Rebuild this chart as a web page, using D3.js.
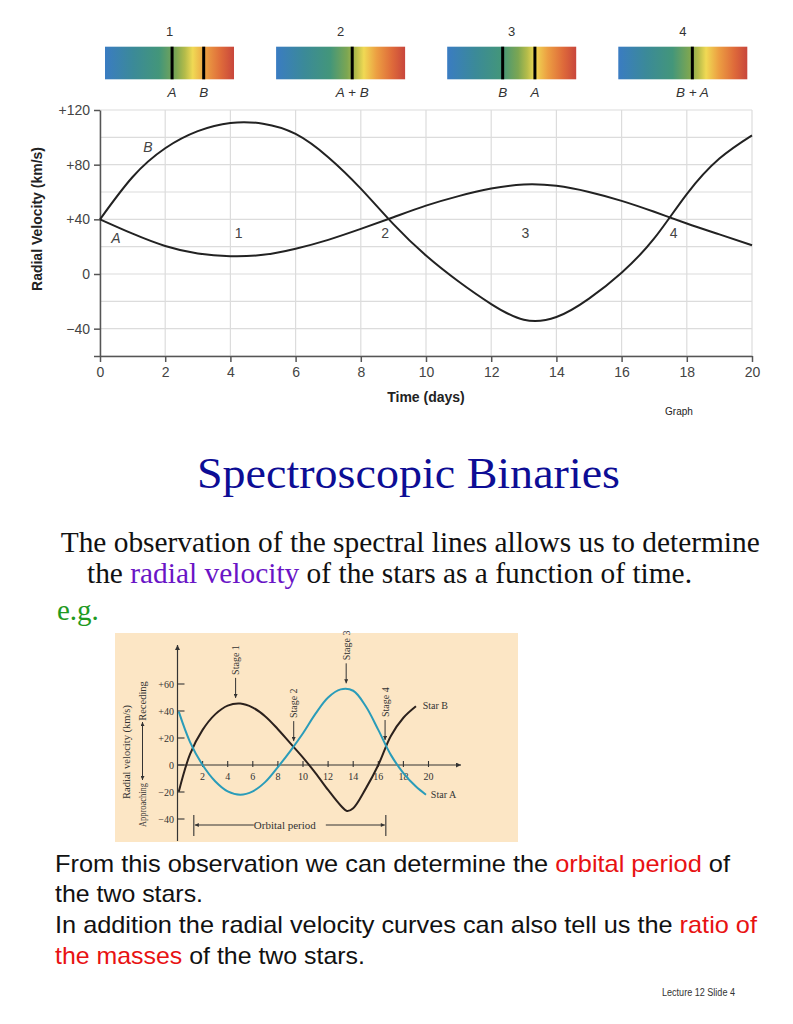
<!DOCTYPE html>
<html><head><meta charset="utf-8">
<script src="https://cdn.jsdelivr.net/npm/d3@7"></script>
<style>body{margin:0;background:#fff}svg{display:block}</style>
</head><body>
<svg id="c" width="793" height="1024"></svg>
<script>
// ---------- DATA ----------
// spectra strips
const stages = ["1", "2", "3", "4"];
const stageLinePos = [[0.52, 0.765], [0.59], [0.43, 0.68], [0.574]];
const stageLineLabels = [["A", "B"], ["A + B"], ["B", "A"], ["B + A"]];

// main radial velocity graph
const xTicksMain = [0, 2, 4, 6, 8, 10, 12, 14, 16, 18, 20];
const yTicksMain = [-40, 0, 40, 80, 120];
const daysB = [0, 1, 2, 3, 4, 5, 6, 7, 8, 9, 10, 11, 12, 13, 14, 15, 16, 17, 18, 19, 20];
const velB  = [40, 71, 92, 104.5, 110.5, 110, 102.5, 85.5, 62.5, 36.5, 13.5, -5.5, -22, -33.5, -31.5, -18, 1, 26, 58.5, 84.5, 101.5];
const daysA = [0, 1, 2, 3, 4, 5, 6, 7, 8, 9, 10, 11, 12, 13, 14, 15, 16, 17, 18, 19, 20];
const velA  = [40, 29.5, 20.5, 15, 13, 14, 18.5, 25, 33, 41.5, 50, 57, 62.5, 65.5, 64.5, 60, 53.5, 45.5, 37, 29, 21];
const stageDays = [4.25, 8.75, 13.05, 17.6];
const stageLabelVel = [30, 30, 30, 30];
const curveLabels = ["B", "A"];
const curveLabelDay = [1.47, 0.49];
const curveLabelVel = [92.7, 26.3];

// inset (example) graph
const xTicksInset = [2, 4, 6, 8, 10, 12, 14, 16, 18, 20];
const yTicksInset = [-40, -20, 0, 20, 40, 60];
const insetDaysA = [0.1, 1, 2, 3, 4, 5, 6, 7, 8, 9, 10, 11, 12, 13, 14, 15, 16, 17, 18, 19, 19.8];
const insetVelA  = [39.5, 17, 0, -12, -19.5, -22, -19.5, -12.5, -1.5, 10.5, 23.5, 38, 50, 56, 55, 43.5, 26, 7.5, -6, -16, -22];
const insetDaysB = [0.1, 1, 2, 3, 4, 5, 6, 7, 8, 9, 10, 11, 12, 13, 13.5, 14, 15, 16, 17, 18, 19];
const insetVelB  = [-19.8, 8, 26, 37.5, 44, 45.5, 42.5, 36, 26.5, 16, 5.5, -6, -18.5, -30, -34, -32, -17.5, 0, 21.5, 35, 43.5];
const insetStages = ["Stage 1", "Stage 2", "Stage 3", "Stage 4"];
const insetStageDays = [4.63, 9.26, 13.44, 16.54];
const insetStageVel = [46, 14, 56.8, 14.8];
const orbitalSpan = [1.3, 16.6];
const starLabels = ["Star B", "Star A"];
const starLabelDay = [19.3, 19.95];
const starLabelVel = [44, -22];

// ---------- DRAW ----------
const svg = d3.select("#c");
const SANS = "'Liberation Sans', Arial, Helvetica, sans-serif";
const SERIF = "'Liberation Serif', 'Times New Roman', serif";

const defs = svg.append("defs");
const grad = defs.append("linearGradient").attr("id", "spec").attr("x1", 0).attr("x2", 1).attr("y1", 0).attr("y2", 0);
[[0, "#3a7cc2"], [0.22, "#3b8a98"], [0.42, "#43967a"], [0.55, "#7ca652"], [0.62, "#b5bc4a"], [0.68, "#f0d954"], [0.78, "#ec9e42"], [0.9, "#de6a3a"], [1, "#c8463c"]]
  .forEach(([o, c]) => grad.append("stop").attr("offset", o).attr("stop-color", c));
function marker(id, color, w, h) {
  defs.append("marker").attr("id", id).attr("viewBox", "0 0 10 10").attr("refX", 10).attr("refY", 5)
    .attr("markerWidth", w).attr("markerHeight", h).attr("orient", "auto-start-reverse").attr("markerUnits", "userSpaceOnUse")
    .append("path").attr("d", "M0,0 L10,5 L0,10 Z").attr("fill", color);
}
marker("arr", "#333", 7, 5);
marker("arrS", "#333", 6, 4);

// spectra strips
const band = d3.scaleBand().domain(stages).range([105, 747.3]).paddingInner(0.246).paddingOuter(0);
const linePos = d3.scaleLinear().domain([0, 1]).range([0, band.bandwidth()]);
const strips = svg.append("g").selectAll("g").data(stages).join("g")
  .attr("transform", d => `translate(${band(d)},0)`);
strips.append("rect").attr("y", 46.7).attr("width", band.bandwidth()).attr("height", 32.6).attr("fill", "url(#spec)");
strips.append("text").attr("x", band.bandwidth() / 2).attr("y", 35.5).attr("text-anchor", "middle")
  .attr("font-family", SANS).attr("font-size", 13).attr("fill", "#333").text(d => d);
strips.each(function (d, i) {
  const g = d3.select(this);
  g.selectAll("line").data(stageLinePos[i]).join("line")
    .attr("x1", p => linePos(p)).attr("x2", p => linePos(p)).attr("y1", 46.7).attr("y2", 79.3)
    .attr("stroke", "#000").attr("stroke-width", 3);
  g.selectAll("text.lab").data(stageLineLabels[i]).join("text").attr("class", "lab")
    .attr("x", (l, j) => linePos(stageLinePos[i][j])).attr("y", 96.5).attr("text-anchor", "middle")
    .attr("font-family", SANS).attr("font-style", "italic").attr("font-size", 13.5).attr("fill", "#333").text(l => l);
});

// main chart
const x = d3.scaleLinear().domain([0, 20]).range([100, 752]);
const y = d3.scaleLinear().domain([-60, 120]).range([356, 110]);
const main = svg.append("g");
main.append("g").selectAll("line").data(d3.range(-60, 121, 20)).join("line")
  .attr("x1", x(0)).attr("x2", x(20)).attr("y1", d => y(d)).attr("y2", d => y(d))
  .attr("stroke", "#dcdcdc").attr("stroke-width", 1.2);
main.append("g").selectAll("line").data(xTicksMain).join("line")
  .attr("x1", d => x(d)).attr("x2", d => x(d)).attr("y1", y(-60)).attr("y2", y(120))
  .attr("stroke", "#dcdcdc").attr("stroke-width", 1.2);

const fmt = d => d > 0 ? "+" + d : d < 0 ? "\u2212" + Math.abs(d) : "0";
const yAx = main.append("g").attr("transform", `translate(${x(0)},0)`)
  .call(d3.axisLeft(y).tickValues([-60].concat(yTicksMain)).tickSize(6).tickSizeOuter(0).tickPadding(4).tickFormat(d => d === -60 ? "" : fmt(d)));
const xAx = main.append("g").attr("transform", `translate(0,${y(-60)})`)
  .call(d3.axisBottom(x).tickValues(xTicksMain).tickSize(6).tickSizeOuter(0).tickPadding(5));
[yAx, xAx].forEach(a => {
  a.select(".domain").attr("stroke", "#555").attr("stroke-width", 1.5);
  a.selectAll(".tick line").attr("stroke", "#555").attr("stroke-width", 1.5);
  a.selectAll(".tick text").attr("font-family", SANS).attr("font-size", 14).attr("fill", "#444");
});

const smooth = d3.line().curve(d3.curveNatural);
const line = d3.line().curve(d3.curveCatmullRom.alpha(0.5));
main.append("path").attr("d", smooth(daysB.map((d, i) => [x(d), y(velB[i])])))
  .attr("fill", "none").attr("stroke", "#222").attr("stroke-width", 2);
main.append("path").attr("d", smooth(daysA.map((d, i) => [x(d), y(velA[i])])))
  .attr("fill", "none").attr("stroke", "#222").attr("stroke-width", 2);

main.append("g").selectAll("text").data(stages).join("text")
  .attr("x", (d, i) => x(stageDays[i])).attr("y", (d, i) => y(stageLabelVel[i]) + 5)
  .attr("text-anchor", "middle").attr("font-family", SANS).attr("font-size", 14).attr("fill", "#444").text(d => d);
main.append("g").selectAll("text").data(curveLabels).join("text")
  .attr("x", (d, i) => x(curveLabelDay[i])).attr("y", (d, i) => y(curveLabelVel[i]) + 5)
  .attr("text-anchor", "middle").attr("font-family", SANS).attr("font-style", "italic").attr("font-size", 14).attr("fill", "#444").text(d => d);

main.append("text").attr("transform", "translate(42,219) rotate(-90)").attr("text-anchor", "middle")
  .attr("font-family", SANS).attr("font-weight", "bold").attr("font-size", 14).attr("fill", "#222").text("Radial Velocity (km/s)");
main.append("text").attr("x", 426).attr("y", 401.5).attr("text-anchor", "middle")
  .attr("font-family", SANS).attr("font-weight", "bold").attr("font-size", 14).attr("fill", "#222").text("Time (days)");
main.append("text").attr("x", 679).attr("y", 414.5).attr("text-anchor", "middle")
  .attr("font-family", SANS).attr("font-size", 10).attr("fill", "#222").text("Graph");

// slide texts
svg.append("text").attr("x", 197).attr("y", 488).attr("textLength", 423).attr("lengthAdjust", "spacingAndGlyphs")
  .attr("font-family", SERIF).attr("font-size", 45).attr("fill", "#0d0d95").text("Spectroscopic Binaries");
const p1 = svg.append("g").attr("font-family", SERIF).attr("font-size", 29).attr("fill", "#111");
p1.append("text").attr("x", 60.7).attr("y", 552).attr("textLength", 699).attr("lengthAdjust", "spacingAndGlyphs")
  .text("The observation of the spectral lines allows us to determine");
const p1b = p1.append("text").attr("x", 87).attr("y", 583).attr("textLength", 605).attr("lengthAdjust", "spacingAndGlyphs");
p1b.append("tspan").text("the ");
p1b.append("tspan").attr("fill", "#6a14c6").text("radial velocity");
p1b.append("tspan").text(" of the stars as a function of time.");
p1.append("text").attr("x", 57).attr("y", 620).attr("fill", "#1f9a22").text("e.g.");

// inset chart
const xi = d3.scaleLinear().domain([0, 20]).range([177.5, 428.5]);
const yi = d3.scaleLinear().domain([-40, 60]).range([819, 684]);
const ins = svg.append("g");
ins.append("rect").attr("x", 115).attr("y", 633).attr("width", 403).attr("height", 209).attr("fill", "#fce6c5");
ins.append("line").attr("x1", xi(0)).attr("x2", xi(0)).attr("y1", 841).attr("y2", 645)
  .attr("stroke", "#333").attr("stroke-width", 1.2).attr("marker-end", "url(#arr)");
ins.append("line").attr("x1", xi(0)).attr("x2", 461).attr("y1", yi(0)).attr("y2", yi(0))
  .attr("stroke", "#333").attr("stroke-width", 1.2).attr("marker-end", "url(#arr)");
ins.append("g").selectAll("line").data(xTicksInset).join("line")
  .attr("x1", d => xi(d)).attr("x2", d => xi(d)).attr("y1", yi(0) - 4).attr("y2", yi(0) + 2)
  .attr("stroke", "#333").attr("stroke-width", 1.1);
ins.append("g").selectAll("text").data(xTicksInset).join("text")
  .attr("x", d => xi(d)).attr("y", yi(0) + 15).attr("text-anchor", "middle")
  .attr("font-family", SERIF).attr("font-size", 10).attr("fill", "#333").text(d => d);
ins.append("g").selectAll("line").data(yTicksInset).join("line")
  .attr("x1", xi(0)).attr("x2", xi(0) + 7).attr("y1", d => yi(d)).attr("y2", d => yi(d))
  .attr("stroke", "#333").attr("stroke-width", 1.1);
ins.append("g").selectAll("text").data(yTicksInset).join("text")
  .attr("x", 174).attr("y", d => yi(d) + 3.5).attr("text-anchor", "end")
  .attr("font-family", SERIF).attr("font-size", 10).attr("fill", "#333").text(fmt);

ins.append("path").attr("d", line(insetDaysB.map((d, i) => [xi(d), yi(insetVelB[i])])))
  .attr("fill", "none").attr("stroke", "#2b211d").attr("stroke-width", 2);
ins.append("path").attr("d", line(insetDaysA.map((d, i) => [xi(d), yi(insetVelA[i])])))
  .attr("fill", "none").attr("stroke", "#2a9cb9").attr("stroke-width", 2);

ins.append("g").selectAll("text").data(starLabels).join("text")
  .attr("x", (d, i) => xi(starLabelDay[i]) + 3).attr("y", (d, i) => yi(starLabelVel[i]) + 3.5)
  .attr("font-family", SERIF).attr("font-size", 10).attr("fill", "#333").text(d => d);

// stage arrows
const sg = ins.append("g").selectAll("g").data(insetStages).join("g")
  .attr("transform", (d, i) => `translate(${xi(insetStageDays[i])},${yi(insetStageVel[i]) - 5})`);
sg.append("line").attr("x1", 0).attr("x2", 0).attr("y1", -20).attr("y2", 0)
  .attr("stroke", "#333").attr("stroke-width", 1).attr("marker-end", "url(#arrS)");
sg.append("text").attr("transform", "translate(3.5,-23) rotate(-90)")
  .attr("font-family", SERIF).attr("font-size", 10).attr("fill", "#333").text(d => d);

// axis titles of inset
ins.append("text").attr("transform", "translate(130,752) rotate(-90)").attr("text-anchor", "middle")
  .attr("font-family", SERIF).attr("font-size", 10.5).attr("fill", "#333").text("Radial velocity (km/s)");
ins.append("text").attr("transform", "translate(146,805) rotate(-90)").attr("text-anchor", "middle")
  .attr("textLength", 44).attr("lengthAdjust", "spacingAndGlyphs")
  .attr("font-family", SERIF).attr("font-size", 10.5).attr("fill", "#333").text("Approaching");
ins.append("text").attr("transform", "translate(146,701) rotate(-90)").attr("text-anchor", "middle")
  .attr("font-family", SERIF).attr("font-size", 10.5).attr("fill", "#333").text("Receding");
ins.append("line").attr("x1", 142.5).attr("x2", 142.5).attr("y1", 752).attr("y2", 780)
  .attr("stroke", "#333").attr("stroke-width", 1).attr("marker-end", "url(#arrS)");
ins.append("line").attr("x1", 142.5).attr("x2", 142.5).attr("y1", 752).attr("y2", 722)
  .attr("stroke", "#333").attr("stroke-width", 1).attr("marker-end", "url(#arrS)");

// orbital period
const op = ins.append("g");
op.selectAll("line.bar").data(orbitalSpan).join("line").attr("class", "bar")
  .attr("x1", d => xi(d)).attr("x2", d => xi(d)).attr("y1", 815).attr("y2", 836)
  .attr("stroke", "#333").attr("stroke-width", 1.1);
const mid = (xi(orbitalSpan[0]) + xi(orbitalSpan[1])) / 2;
op.append("line").attr("x1", mid - 36).attr("x2", xi(orbitalSpan[0]) + 1).attr("y1", 825).attr("y2", 825)
  .attr("stroke", "#333").attr("stroke-width", 1).attr("marker-end", "url(#arrS)");
op.append("line").attr("x1", mid + 36).attr("x2", xi(orbitalSpan[1]) - 1).attr("y1", 825).attr("y2", 825)
  .attr("stroke", "#333").attr("stroke-width", 1).attr("marker-end", "url(#arrS)");
op.append("text").attr("x", mid - 5).attr("y", 828.5).attr("text-anchor", "middle")
  .attr("font-family", SERIF).attr("font-size", 11).attr("fill", "#333").text("Orbital period");

// bottom text
const bt = svg.append("g").attr("font-family", SANS).attr("font-size", 24).attr("fill", "#111");
const RED = "#e81212";
const l1 = bt.append("text").attr("x", 55).attr("y", 872).attr("textLength", 675).attr("lengthAdjust", "spacingAndGlyphs");
l1.append("tspan").text("From this observation we can determine the ");
l1.append("tspan").attr("fill", RED).text("orbital period");
l1.append("tspan").text(" of");
bt.append("text").attr("x", 55).attr("y", 902).attr("textLength", 148).attr("lengthAdjust", "spacingAndGlyphs").text("the two stars.");
const l3 = bt.append("text").attr("x", 55).attr("y", 933).attr("textLength", 702).attr("lengthAdjust", "spacingAndGlyphs");
l3.append("tspan").text("In addition the radial velocity curves can also tell us the ");
l3.append("tspan").attr("fill", RED).text("ratio of");
const l4 = bt.append("text").attr("x", 55).attr("y", 964).attr("textLength", 310).attr("lengthAdjust", "spacingAndGlyphs");
l4.append("tspan").attr("fill", RED).text("the masses");
l4.append("tspan").text(" of the two stars.");
svg.append("text").attr("x", 662).attr("y", 995.5).attr("textLength", 73).attr("lengthAdjust", "spacingAndGlyphs")
  .attr("font-family", SANS).attr("font-size", 10).attr("fill", "#333").text("Lecture 12 Slide 4");
</script>
</body></html>
